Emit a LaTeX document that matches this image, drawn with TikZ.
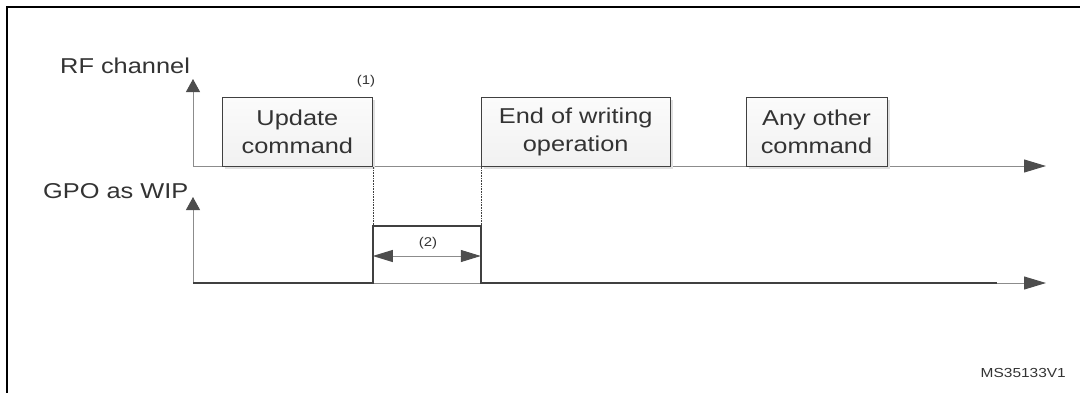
\documentclass[tikz,border=0pt]{standalone}
\usepackage{fontspec}
\setmainfont{Liberation Sans}[FakeStretch=1.18]
\usetikzlibrary{arrows.meta,positioning,shadows}
\definecolor{boxline}{HTML}{404040}
\definecolor{axisgray}{HTML}{8C8C8C}
\definecolor{tipgray}{HTML}{4D4D4D}
\definecolor{txt}{HTML}{333333}
\tikzstyle{command} = [rectangle, draw=boxline, line width=0.8pt,
    top color=gray!3, bottom color=gray!11, inner sep=0pt,
    minimum height=69pt, align=center, text=txt,
    font=\fontsize{21.5}{28}\selectfont,
    drop shadow={shadow xshift=2.5pt, shadow yshift=-2.5pt, fill=black!12, opacity=1}]
\tikzstyle{axislabel} = [text=txt, inner sep=0pt, anchor=base west,
    font=\fontsize{21.5}{26}\selectfont]
\tikzstyle{note} = [text=txt, inner sep=0pt, font=\fontsize{12.7}{15}\selectfont]
\tikzstyle{axis} = [draw=axisgray, line width=1pt,
    -{Triangle[length=13pt,width=14pt,color=tipgray]}]
\tikzstyle{timeaxis} = [draw=axisgray, line width=1pt,
    -{Triangle[length=22pt,width=13pt,color=tipgray]}]
\tikzstyle{signal} = [draw=boxline, line width=1.6pt]
\tikzstyle{marker} = [draw=boxline, line width=0.6pt, densely dotted]
\tikzstyle{span} = [draw=axisgray, line width=1pt,
    {Triangle[length=20pt,width=12pt,color=tipgray]}-{Triangle[length=20pt,width=12pt,color=tipgray]}]

\begin{document}
\begin{tikzpicture}[x=1pt, y=-1pt]
    \useasboundingbox (0,0) rectangle (1080,392);
    \draw[line width=2.5pt] (7,7) rectangle (1090,400);

    % axes
    \coordinate (rfO) at (193,166);
    \coordinate (rfTop) at (193,79);
    \coordinate (rfEnd) at (1046,166);
    \coordinate (gpoO) at (193,283);
    \coordinate (gpoTop) at (193,197);
    \coordinate (gpoEnd) at (1046,283);
    \path[axis] (rfO) -- (rfTop);
    \path[timeaxis] (rfO) -- (rfEnd);
    \path[axis] (gpoO) -- (gpoTop);
    \path[timeaxis] (gpoO) -- (gpoEnd);

    \node[axislabel] (rfLabel) at (60,73) {RF channel};
    \node[axislabel] (gpoLabel) at (43,198) {GPO as WIP};

    \node[command, minimum width=150pt, anchor=north west] (update) at (222,97) {Update\\command};
    \node[command, minimum width=189pt, right=108pt of update] (endWrite) {End of writing\\operation};
    \node[command, minimum width=141pt, right=75pt of endWrite] (anyOther) {Any other\\command};

    \coordinate (pulseTop) at (0,226);
    \coordinate (spanLevel) at (0,256);
    \coordinate (sigEnd) at (997,283);

    \path[marker] (update.south east) -- (update.south east |- pulseTop);
    \path[marker] (endWrite.south west) -- (endWrite.south west |- pulseTop);

    \path[signal] (gpoO) -- (update.south east |- gpoO) -- (update.south east |- pulseTop)
        -- (endWrite.south west |- pulseTop) -- (endWrite.south west |- gpoO) -- (sigEnd);
    \path[span] (update.south east |- spanLevel) -- (endWrite.south west |- spanLevel);

    \node[note] (note1) at (366,81) {(1)};
    \node[note] (note2) at (428,243) {(2)};
    \node[note, font=\fontsize{13.1}{15}\selectfont, anchor=base east] (figRef) at (1066,377) {MS35133V1};
\end{tikzpicture}
\end{document}
